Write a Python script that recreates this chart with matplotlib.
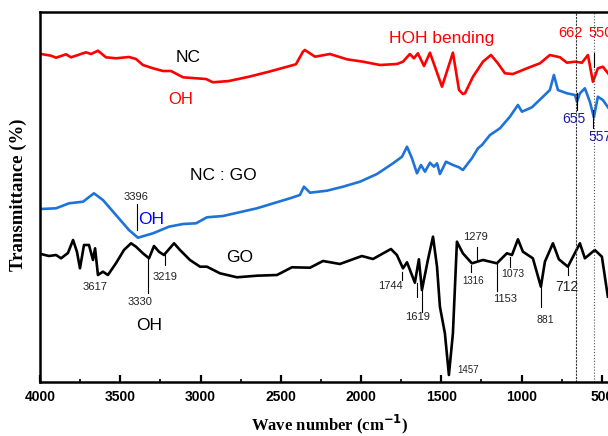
import matplotlib.pyplot as plt

# FTIR spectra of NC, NC:GO and GO (stacked, arbitrary offsets)
wn_nc = [3994, 3931, 3900, 3838, 3807, 3763, 3714, 3682, 3639, 3589, 3527, 3446, 3402, 3359,
         3296, 3234, 3184, 3109, 3028, 2966, 2923, 2823, 2698, 2574, 2406, 2362, 2350, 2287,
         2194, 2088, 1988, 1882, 1777, 1739, 1696, 1671, 1646, 1608, 1571, 1496, 1428, 1390,
         1366, 1353, 1303, 1241, 1191, 1148, 1104, 1054, 967, 886, 824, 761, 718, 668, 624, 587,
         556, 525, 494, 462]
t_nc = [328, 326.3, 324.3, 327.7, 324.7, 327, 329.7, 328, 331.3, 324.7, 323.7, 325, 323, 317,
        313.7, 311, 311, 304.7, 303.7, 303, 299.7, 301, 305.3, 310.3, 317.7, 330.3, 332, 325.3,
        328, 322.7, 320.3, 317, 318, 320.3, 328, 323.7, 328.7, 316, 329.3, 295.3, 329.3, 292,
        288, 288.7, 305.3, 320.3, 327, 318.7, 308.7, 308, 313.7, 318.7, 327, 324.7, 319.3, 320.3,
        319.3, 327, 300.3, 313.7, 315.3, 308.7]

wn_ncgo = [3994, 3900, 3819, 3732, 3664, 3608, 3527, 3446, 3390, 3296, 3197, 3109, 3028, 2960,
           2860, 2649, 2443, 2381, 2356, 2318, 2213, 2113, 2007, 1901, 1801, 1745, 1714, 1683,
           1652, 1627, 1602, 1571, 1546, 1527, 1509, 1471, 1428, 1390, 1366, 1310, 1272, 1247,
           1197, 1135, 1073, 1023, 998, 936, 867, 824, 799, 774, 718, 668, 655, 637, 606, 575,
           550, 525, 494, 462]
t_ncgo = [173, 173.7, 178.7, 180.3, 188.7, 182, 167, 152, 144.3, 148.7, 155.3, 158, 158.7, 164.7,
          166, 173.7, 183.7, 187, 195.3, 189.3, 191.3, 195.3, 200.3, 208, 218.7, 225.3, 235.3, 223.7,
          208.7, 217, 210.3, 219.3, 215.3, 218.7, 208, 220.3, 217, 214.7, 212, 223.7, 233.7, 237,
          247, 253.7, 265.3, 277, 270.3, 274.7, 285.3, 292, 307, 292, 288.7, 287, 280.3, 288.7,
          293.7, 280.3, 264.7, 285.3, 282, 274.7]

wn_go = [3994, 3944, 3900, 3869, 3826, 3794, 3770, 3751, 3726, 3695, 3670, 3657, 3639, 3608, 3577,
         3527, 3477, 3433, 3402, 3359, 3321, 3290, 3259, 3228, 3165, 3128, 3066, 3003, 2960, 2879,
         2773, 2649, 2524, 2431, 2318, 2237, 2132, 1995, 1926, 1814, 1777, 1739, 1714, 1665, 1640,
         1621, 1584, 1552, 1527, 1509, 1478, 1453, 1428, 1403, 1366, 1310, 1241, 1154, 1092, 1060,
         1023, 992, 930, 880, 855, 805, 768, 712, 637, 606, 544, 500, 463]
t_go = [128, 126, 127, 123.7, 129, 142, 130.3, 113.7, 137, 137, 122, 133.7, 107, 110.3, 107,
        118.7, 132, 138.7, 135.3, 128.7, 123.7, 136, 130.3, 127, 138.7, 132, 122, 115.3, 115.3, 108.7,
        104.7, 106.3, 107, 114.7, 114.3, 121, 118, 126, 123, 133, 127, 113.7, 119.7, 99.3, 122.7,
        92, 122, 145.3, 115.3, 75.3, 48.7, 7, 48.7, 140.3, 128.7, 118.7, 122, 118.7, 128.7, 127,
        142.7, 130.3, 123.7, 95.3, 120.3, 138.7, 122.7, 115.3, 138.7, 123.7, 132, 125.3, 85.3]

# peak markers: (wavenumber, line start, line end)
go_marks = [(3330, 124, 89), (3219, 127, 117), (1744, 110, 102), (1650, 99, 85),
            (1619, 92, 70), (1279, 135, 122), (1316, 117, 110), (1153, 119, 91),
            (1073, 125, 115), (881, 99, 75), (712, 115, 107)]
ncgo_marks = [(3398, 178, 152), (655, 289, 272), (557, 272, 254)]
nc_marks = [(550, 329, 315)]

fig = plt.figure(figsize=(6.08, 4.36), dpi=100)
ax = fig.add_axes([40 / 608, 54 / 436, 568 / 608, 370 / 436])

ax.plot(wn_nc, t_nc, color='#ff0000', lw=1.9)
ax.plot(wn_ncgo, t_ncgo, color='#1e73d9', lw=1.9)
ax.plot(wn_go, t_go, color='black', lw=1.9)

ax.axvline(662, color='#333333', lw=0.8, linestyle=(0, (2, 1)))
ax.axvline(550, color='#555555', lw=0.8, linestyle=':')

for w, a, b in go_marks + ncgo_marks + nc_marks:
    ax.plot([w, w], [a, b], color='black', lw=0.8)

sans = 'Liberation Sans'
small = dict(family=sans, fontsize=8, ha='center', va='center', color='#222222')
ax.text(3656, 95, '3617', **small)
ax.text(3377, 80, '3330', **small)
ax.text(3220, 105, '3219', **small)
ax.text(1816, 96, '1744', **small)
ax.text(1646, 65, '1619', **small)
ax.text(1333, 12, '1457', **dict(small, fontsize=7))
ax.text(1285, 145, '1279', **small)
ax.text(1305, 101, '1316', **dict(small, fontsize=7))
ax.text(1100, 83, '1153', **small)
ax.text(1056, 108, '1073', **dict(small, fontsize=7.5))
ax.text(851, 62, '881', **dict(small, fontsize=7.5))
ax.text(720, 95, '712', **dict(small, fontsize=10))
ax.text(3402, 185, '3396', **small)

ax.text(3319, 57, 'OH', family=sans, fontsize=12.5, ha='center', va='center')
ax.text(2759, 125, 'GO', family=sans, fontsize=12.5, ha='center', va='center')
ax.text(3309, 163, 'OH', family=sans, fontsize=12.5, ha='center', va='center', color='#0000ff')
ax.text(2858, 207, 'NC : GO', family=sans, fontsize=12.5, ha='center', va='center')
ax.text(674, 263, '655', family=sans, fontsize=10, ha='center', va='center', color='#1c1ca8')
ax.text(585, 245, '557', family=sans, fontsize=10, ha='left', va='center', color='#1c1ca8')
ax.text(3076, 324, 'NC', family=sans, fontsize=12.5, ha='center', va='center')
ax.text(3122, 282, 'OH', family=sans, fontsize=12, ha='center', va='center', color='#ff0000')
ax.text(1498, 344, 'HOH bending', family=sans, fontsize=12.5, ha='center', va='center', color='#ff0000')
ax.text(699, 349, '662', family=sans, fontsize=10.5, ha='center', va='center', color='#ff0000')
ax.text(585, 349, '550', family=sans, fontsize=10.5, ha='left', va='center', color='#ff0000')

ax.set_xlim(4000, 462)
ax.set_ylim(0, 370)
ax.set_xticks([4000, 3500, 3000, 2500, 2000, 1500, 1000, 500])
ax.set_xticks(range(3750, 450, -500), minor=True)
ax.set_yticks([])
ax.tick_params(axis='x', which='major', direction='in', length=5, width=1.6, pad=6)
ax.tick_params(axis='x', which='minor', direction='in', length=2.5, width=1.2)
for lbl in ax.get_xticklabels():
    lbl.set_fontfamily(sans)
    lbl.set_fontweight('bold')
    lbl.set_fontsize(10)

ax.spines['right'].set_visible(False)
for s in ['left', 'bottom', 'top']:
    ax.spines[s].set_linewidth(1.8)

ax.set_xlabel('Wave number (cm$^{\\mathbf{-1}}$)', family='Liberation Serif',
              fontweight='bold', fontsize=12)
ax.xaxis.set_label_coords(0.51, -0.083)
ax.set_ylabel('Transmittance (%)', family='Liberation Serif', fontweight='bold', fontsize=13.5)
ax.yaxis.set_label_coords(-0.023, 0.505)

fig.savefig('out.png', dpi=100)
